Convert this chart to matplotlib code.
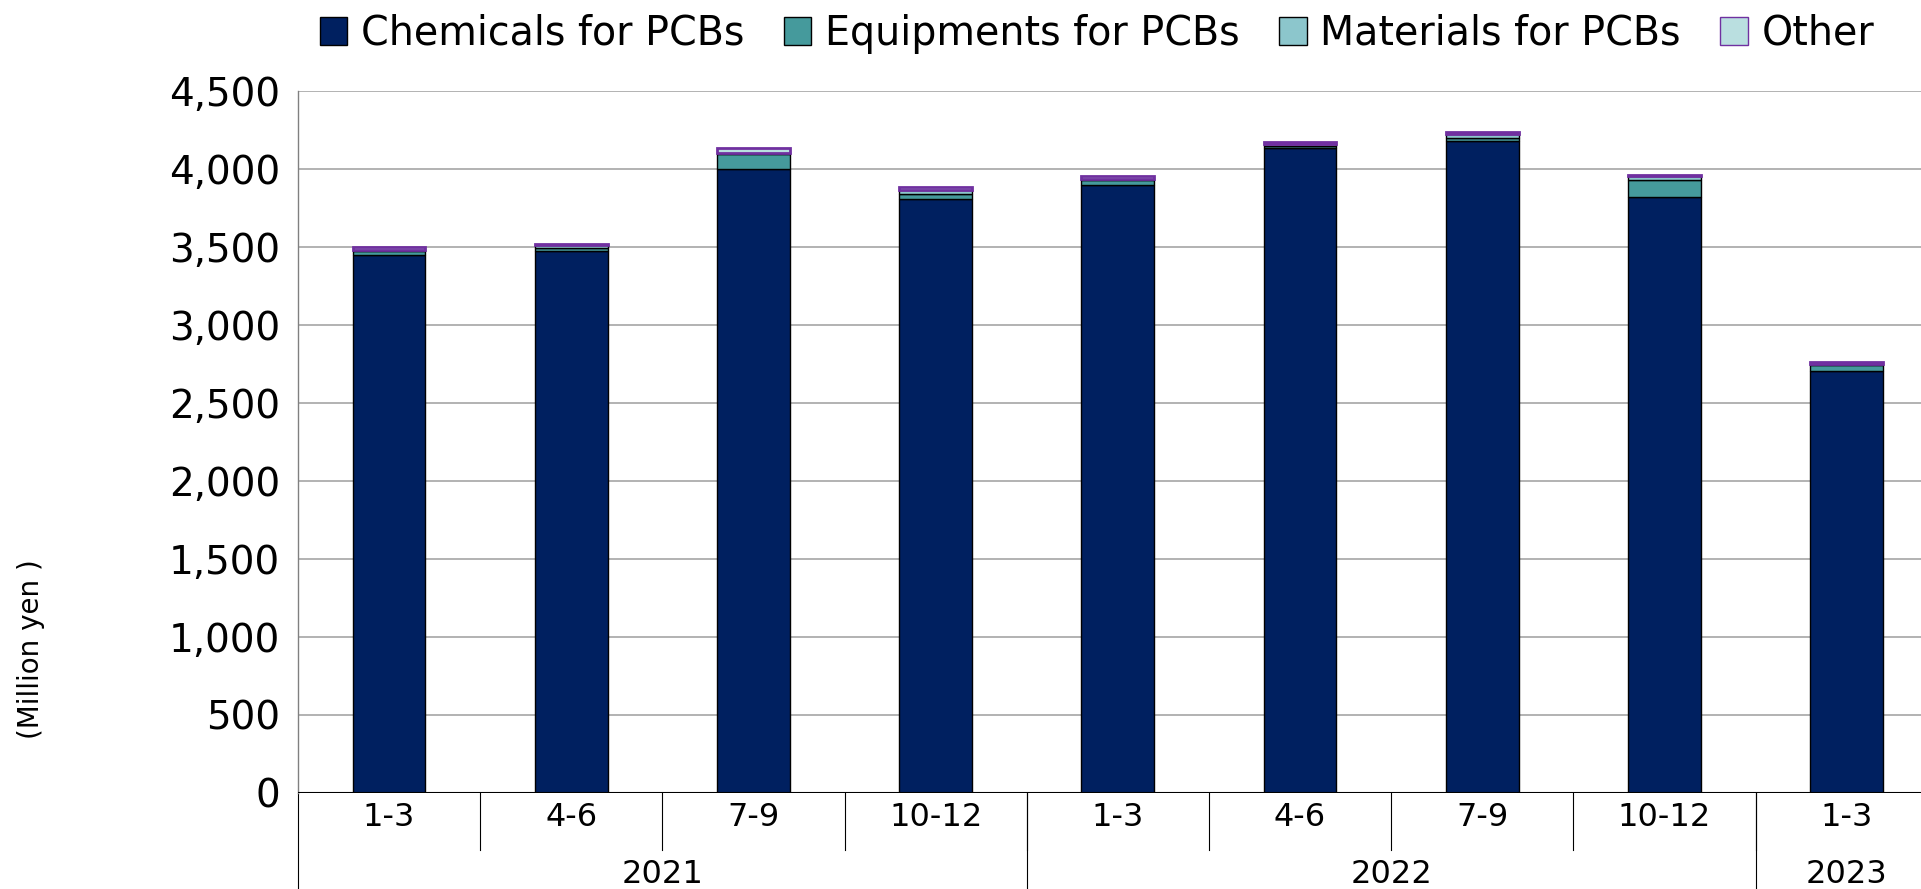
import matplotlib
matplotlib.use("Agg")
import matplotlib.pyplot as plt
import matplotlib.transforms as mtransforms
from matplotlib.patches import Patch

# quarterly sales by product group (million yen)
quarters = ["1-3", "4-6", "7-9", "10-12", "1-3", "4-6", "7-9", "10-12", "1-3"]
years = ["2021", "2022", "2023"]
year_spans = [(0, 3), (4, 7), (8, 8)]

chemicals = [3445, 3470, 4000, 3805, 3895, 4130, 4175, 3820, 2705]
equipments = [30, 20, 95, 30, 35, 15, 20, 105, 35]
materials = [5, 20, 8, 30, 5, 10, 25, 25, 5]
other = [20, 5, 27, 15, 20, 15, 12, 12, 15]

c_chem = "#002060"
c_equip = "#459A9C"
c_mat = "#8CC6CC"
c_other = "#BADFE0"
c_purple = "#7030A0"

plt.rcParams["font.family"] = ["DejaVu Sans"]

fig = plt.figure(figsize=(19.21, 8.89), dpi=100)
ax = fig.add_axes([0.1551, 0.1084, 0.8449, 0.7896])

x = list(range(len(quarters)))
w = 0.40
b1 = chemicals
b2 = [a + b for a, b in zip(b1, equipments)]
b3 = [a + b for a, b in zip(b2, materials)]

ax.bar(x, chemicals, w, color=c_chem, edgecolor="black", linewidth=1, zorder=3)
ax.bar(x, equipments, w, bottom=b1, color=c_equip, edgecolor="black", linewidth=1, zorder=3)
ax.bar(x, materials, w, bottom=b2, color=c_mat, edgecolor="black", linewidth=1, zorder=3)
ax.bar(x, other, w, bottom=b3, color=c_other, edgecolor=c_purple, linewidth=2, zorder=3)

ax.set_xlim(-0.5, 8.408)
ax.set_ylim(0, 4500)
ax.set_yticks(range(0, 4501, 500))
ax.set_yticklabels([f"{v:,}" for v in range(0, 4501, 500)], fontsize=28)
ax.tick_params(axis="y", length=0, pad=13)
ax.set_xticks([])
ax.yaxis.grid(True, color="#A6A6A6", linewidth=1.2, zorder=0)

for s in ["top", "right", "bottom"]:
    ax.spines[s].set_visible(False)
ax.spines["left"].set_color("#808080")
ax.spines["left"].set_linewidth(1)
ax.axhline(0, color="black", linewidth=1.5, zorder=4)

# two-row category axis: quarters, then years
trans = mtransforms.blended_transform_factory(ax.transData, ax.transAxes)
for i, q in enumerate(quarters):
    ax.text(i, -0.036, q, transform=trans, ha="center", va="center", fontsize=23)
for i in range(1, len(quarters)):
    ax.plot([i - 0.5, i - 0.5], [0, -0.0818], transform=trans, color="black",
            linewidth=0.8, clip_on=False)
for (lo, hi), yr in zip(year_spans, years):
    ax.text((lo + hi) / 2, -0.117, yr, transform=trans, ha="center", va="center", fontsize=23)
    ax.plot([lo - 0.5, lo - 0.5], [0, -0.14], transform=trans, color="black",
            linewidth=0.8, clip_on=False)

fig.text(0.016, 0.27, "(Million yen )", rotation=90, ha="center", va="center", fontsize=20)

handles = [
    Patch(facecolor=c_chem, edgecolor="black", label="Chemicals for PCBs"),
    Patch(facecolor=c_equip, edgecolor="black", label="Equipments for PCBs"),
    Patch(facecolor=c_mat, edgecolor="black", label="Materials for PCBs"),
    Patch(facecolor=c_other, edgecolor=c_purple, label="Other"),
]
fig.legend(handles=handles, loc="center", bbox_to_anchor=(0.571, 0.962), ncol=4,
           frameon=False, fontsize=28.5, handlelength=0.7, handleheight=0.7,
           handletextpad=0.34, columnspacing=1.0, borderaxespad=0)

fig.savefig("out.png", dpi=100)
